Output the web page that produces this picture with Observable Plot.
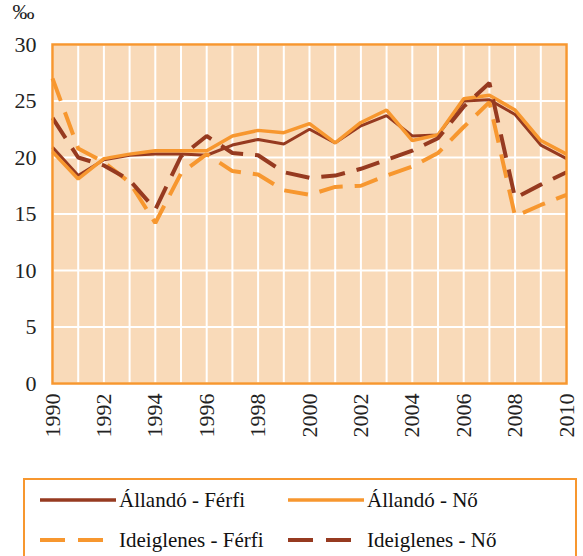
<!DOCTYPE html>
<html><head><meta charset="utf-8">
<script src="https://cdn.jsdelivr.net/npm/d3@7"></script>
<script src="https://cdn.jsdelivr.net/npm/@observablehq/plot@0.6"></script>
<style>
body{margin:0;background:#fff;font-family:"Liberation Serif","Times New Roman",Times,"DejaVu Serif",serif;}
#wrap{position:relative;width:583px;height:556px;overflow:hidden;}
#legend{position:absolute;left:23px;top:478px;width:554px;height:100px;border:2px solid #F7972F;box-sizing:border-box;}
.item{position:absolute;height:24px;display:flex;align-items:center;font-size:21px;color:#111;white-space:nowrap;font-family:"Liberation Serif","Times New Roman",Times,serif;}
.item svg{margin-right:3px;}
</style>
</head><body>
<div id="wrap"></div>
<script>
const years = d3.range(1990, 2011);
const allandoFerfi = [20.9, 18.4, 19.8, 20.2, 20.3, 20.3, 20.2, 21.1, 21.6, 21.2, 22.5, 21.3, 22.8, 23.7, 21.9, 22.0, 25.0, 25.1, 23.8, 21.1, 19.9];
const allandoNo = [20.5, 18.1, 19.9, 20.3, 20.6, 20.6, 20.6, 21.9, 22.4, 22.2, 23.0, 21.3, 23.1, 24.2, 21.5, 22.0, 25.2, 25.5, 24.2, 21.5, 20.3];
const ideiglenesFerfi = [27.0, 20.8, 19.6, 17.8, 14.2, 18.6, 20.3, 18.8, 18.5, 17.1, 16.7, 17.4, 17.5, 18.4, 19.2, 20.4, 22.7, 24.9, 14.8, 15.8, 16.7];
const ideiglenesNo = [23.5, 20.0, 19.3, 18.0, 15.4, 20.1, 21.9, 20.4, 20.2, 18.7, 18.2, 18.4, 19.0, 19.8, 20.6, 21.7, 24.5, 26.6, 16.4, 17.6, 18.7];
const seriesNames = ["Állandó - Férfi", "Állandó - Nő", "Ideiglenes - Férfi", "Ideiglenes - Nő"];
const yTicks = [0, 5, 10, 15, 20, 25, 30];
const xTicks = d3.range(1990, 2011, 2);

const DARK = "#963A20", ORANGE = "#F7972F", BG = "#F9DAB9";
const styles = [
  {color: DARK, width: 3, dash: null},
  {color: ORANGE, width: 3.5, dash: null},
  {color: ORANGE, width: 4, dash: "24,12"},
  {color: DARK, width: 4, dash: "24,12"}
];
const values = [allandoFerfi, allandoNo, ideiglenesFerfi, ideiglenesNo];
const tables = values.map((v, i) => years.map((y, j) => ({year: y, value: v[j], series: seriesNames[i]})));

const chart = Plot.plot({
  width: 583, height: 465,
  marginLeft: 52, marginRight: 17, marginTop: 44, marginBottom: 82,
  style: {fontFamily: "'Liberation Serif', 'Times New Roman', Times, serif", fontSize: "22px", color: "#222", background: "#fff"},
  x: {domain: [1990, 2010], ticks: xTicks, tickFormat: "d", tickRotate: -90, tickSize: 0, tickPadding: 10, label: null},
  y: {domain: [0, 30], ticks: yTicks, tickSize: 0, tickPadding: 16, label: "‰", labelAnchor: "top", labelArrow: "none", labelOffset: 40},
  marks: [
    Plot.frame({fill: BG}),
    Plot.gridX(years, {stroke: "#fff", strokeOpacity: 1, strokeWidth: 2}),
    Plot.gridY(yTicks, {stroke: "#fff", strokeOpacity: 1, strokeWidth: 2}),
    ...tables.map((t, i) => Plot.line(t, {x: "year", y: "value", stroke: styles[i].color, strokeWidth: styles[i].width, strokeDasharray: styles[i].dash, strokeLinejoin: "miter", strokeLinecap: "butt"})),
    Plot.frame({stroke: ORANGE, strokeWidth: 2.5})
  ]
});
const wrap = document.getElementById("wrap");
wrap.appendChild(chart);

const legend = document.createElement("div");
legend.id = "legend";
const pos = [[15, 8], [263, 8], [15, 48], [263, 48]];
seriesNames.forEach((name, i) => {
  const it = document.createElement("div");
  it.className = "item";
  it.style.left = pos[i][0] + "px";
  it.style.top = pos[i][1] + "px";
  const s = styles[i];
  it.innerHTML = `<svg width="76" height="10"><line x1="0" x2="76" y1="5" y2="5" stroke="${s.color}" stroke-width="${s.dash ? 4 : 3.5}" ${s.dash ? 'stroke-dasharray="25,13"' : ''}/></svg><span>${name}</span>`;
  legend.appendChild(it);
});
wrap.appendChild(legend);
</script>
</body></html>
